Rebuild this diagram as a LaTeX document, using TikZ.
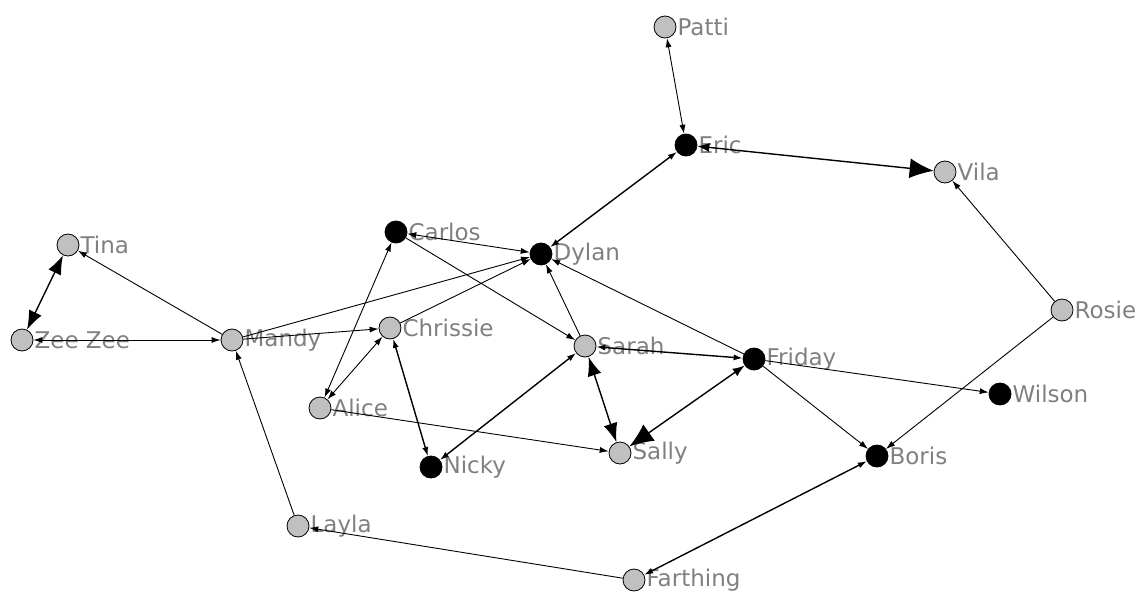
\documentclass[tikz,border=0pt]{standalone}
\usepackage{fontspec}
\setsansfont{DejaVu Sans}
\usepackage{xcolor}
\usepackage{tikz}
\usetikzlibrary{arrows.meta}

\definecolor{nodegray}{RGB}{192,192,192}
\definecolor{labelgray}{RGB}{128,128,128}

\tikzset{
  gnode/.style={circle,draw=black,line width=0.8pt,fill=nodegray,minimum size=22pt,inner sep=0pt},
  bnode/.style={circle,draw=black,line width=0.8pt,fill=black,minimum size=22pt,inner sep=0pt},
  lbl/.style={anchor=west,inner sep=1pt,text=labelgray,font=\sffamily\fontsize{23}{27}\selectfont},
  edge/.style={line width=0.9pt},
  wedge/.style={line width=1.4pt},
  oneway/.style={-{Latex[length=9pt,width=6pt]}},
  twoway/.style={{Latex[length=9pt,width=6pt]}-{Latex[length=9pt,width=6pt]}},
  bigtwoway/.style={{Latex[length=19pt,width=14pt]}-{Latex[length=19pt,width=14pt]}},
  halfbig/.style={{Latex[length=12pt,width=9pt]}-{Latex[length=24pt,width=20pt]}}
}

\begin{document}
\begin{tikzpicture}[x=1pt,y=1pt]
  \useasboundingbox (0,-597) rectangle (1140,0);
    \node[gnode] (patti) at (665,-27) {};
    \node[bnode] (eric) at (686,-145) {};
    \node[gnode] (vila) at (945,-172) {};
    \node[gnode] (tina) at (68,-245) {};
    \node[bnode] (carlos) at (396,-232) {};
    \node[bnode] (dylan) at (541,-254) {};
    \node[gnode] (rosie) at (1062,-310) {};
    \node[gnode] (zeezee) at (22,-340) {};
    \node[gnode] (mandy) at (232,-340) {};
    \node[gnode] (chrissie) at (390,-328) {};
    \node[gnode] (sarah) at (585,-346) {};
    \node[bnode] (friday) at (754,-359) {};
    \node[bnode] (wilson) at (1000,-394) {};
    \node[gnode] (alice) at (320,-408) {};
    \node[bnode] (nicky) at (431,-467) {};
    \node[gnode] (sally) at (620,-453) {};
    \node[bnode] (boris) at (877,-456) {};
    \node[gnode] (layla) at (298,-526) {};
    \node[gnode] (farthing) at (634,-580) {};
      % Labels
    \node[lbl] (pattiL) at (patti.east) {Patti};
    \node[lbl] (ericL) at (eric.east) {Eric};
    \node[lbl] (vilaL) at (vila.east) {Vila};
    \node[lbl] (tinaL) at (tina.east) {Tina};
    \node[lbl] (carlosL) at (carlos.east) {Carlos};
    \node[lbl] (dylanL) at (dylan.east) {Dylan};
    \node[lbl] (rosieL) at (rosie.east) {Rosie};
    \node[lbl] (zeezeeL) at (zeezee.east) {Zee Zee};
    \node[lbl] (mandyL) at (mandy.east) {Mandy};
    \node[lbl] (chrissieL) at (chrissie.east) {Chrissie};
    \node[lbl] (sarahL) at (sarah.east) {Sarah};
    \node[lbl] (fridayL) at (friday.east) {Friday};
    \node[lbl] (wilsonL) at (wilson.east) {Wilson};
    \node[lbl] (aliceL) at (alice.east) {Alice};
    \node[lbl] (nickyL) at (nicky.east) {Nicky};
    \node[lbl] (sallyL) at (sally.east) {Sally};
    \node[lbl] (borisL) at (boris.east) {Boris};
    \node[lbl] (laylaL) at (layla.east) {Layla};
    \node[lbl] (farthingL) at (farthing.east) {Farthing};
      % Edges
    \draw[wedge,bigtwoway] (zeezee) -- (tina);
    \draw[edge,oneway] (mandy) -- (tina);
    \draw[edge,twoway] (zeezee) -- (mandy);
    \draw[edge,oneway] (mandy) -- (dylan);
    \draw[edge,oneway] (mandy) -- (chrissie);
    \draw[edge,oneway] (layla) -- (mandy);
    \draw[edge,oneway] (farthing) -- (layla);
    \draw[wedge,twoway] (farthing) -- (boris);
    \draw[edge,twoway] (carlos) -- (dylan);
    \draw[edge,twoway] (carlos) -- (alice);
    \draw[edge,oneway] (carlos) -- (sarah);
    \draw[edge,oneway] (chrissie) -- (dylan);
    \draw[edge,twoway] (alice) -- (chrissie);
    \draw[wedge,twoway] (chrissie) -- (nicky);
    \draw[edge,oneway] (alice) -- (sally);
    \draw[edge,oneway] (sarah) -- (dylan);
    \draw[wedge,twoway] (sarah) -- (friday);
    \draw[wedge,twoway] (sarah) -- (nicky);
    \draw[wedge,bigtwoway] (sarah) -- (sally);
    \draw[wedge,halfbig] (friday) -- (sally);
    \draw[edge,oneway] (friday) -- (dylan);
    \draw[edge,oneway] (friday) -- (wilson);
    \draw[edge,oneway] (friday) -- (boris);
    \draw[wedge,twoway] (eric) -- (dylan);
    \draw[edge,twoway] (eric) -- (patti);
    \draw[wedge,halfbig] (eric) -- (vila);
    \draw[edge,oneway] (rosie) -- (vila);
    \draw[edge,oneway] (rosie) -- (boris);
\end{tikzpicture}
\end{document}
